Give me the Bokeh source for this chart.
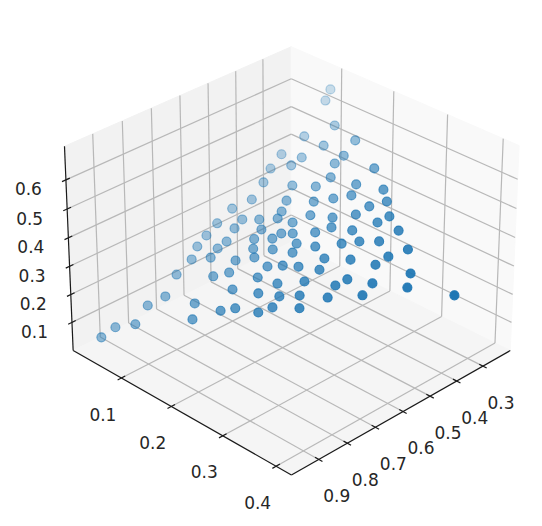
import numpy as np
from bokeh.plotting import figure
from bokeh.models import ColumnDataSource, Range1d
from bokeh.embed import file_html
from bokeh.resources import INLINE
from bokeh.core.properties import value

# Tick labels
x_ticks = [0.1, 0.2, 0.3, 0.4]
y_ticks = [0.3, 0.4, 0.5, 0.6, 0.7, 0.8, 0.9]
z_ticks = [0.1, 0.2, 0.3, 0.4, 0.5, 0.6]

# Series values
x_vals = [.113,.118,.158,.127,.164,.203,.114,.146,.203,.140,.199,.259,.208,.163,.197,.251,.294,.256,.234,.171,.210,.311,.114,.119,.121,.103,.176,
          .178,.098,.129,.153,.203,.096,.128,.167,.199,.215,.192,.167,.131,.095,.126,.176,.204,.231,.235,.101,.126,.164,.187,.215,.235,.168,
          .292,.220,.253,.282,.330,.320,.357,.262,.294,.245,.315,.293,.342,.260,.389,.370,.285,.322,.361,.258,.290,.417,
          .058,.067,.092,.089,.104,.096,.167,.153,.197,.215,.251,.265,.263,.303,.290,.231,.247,.191,.150,.213,.427,.497,.282,.328,.338,.376,.375,.330]
y_vals = [.261,.289,.331,.384,.383,.342,.443,.429,.384,.456,.409,.381,.441,.495,.474,.431,.416,.458,.481,.531,.506,.437,.483,.518,.564,.602,.558,
          .576,.647,.613,.596,.569,.682,.639,.614,.602,.591,.621,.640,.673,.713,.696,.660,.642,.607,.629,.744,.721,.701,.676,.681,.664,.731,
          .463,.537,.520,.492,.465,.488,.485,.541,.528,.567,.543,.564,.525,.595,.515,.547,.610,.588,.575,.651,.637,.561,
          .989,.955,.928,.879,.843,.789,.859,.826,.814,.795,.780,.756,.728,.732,.707,.743,.705,.761,.755,.712,.592,.567,.675,.653,.630,.615,.648,.684]
z_vals = [.680,.657,.621,.581,.579,.611,.534,.543,.577,.523,.558,.579,.532,.490,.506,.540,.552,.519,.500,.461,.480,.536,.502,.474,.437,.407,.440,
          .426,.372,.397,.410,.431,.344,.377,.396,.405,.414,.390,.375,.350,.319,.332,.359,.373,.401,.384,.294,.312,.327,.346,.343,.356,.303,
          .515,.456,.469,.492,.515,.496,.500,.453,.465,.433,.453,.436,.469,.411,.479,.453,.400,.419,.431,.367,.379,.446,
          .100,.127,.148,.187,.215,.258,.202,.228,.238,.254,.266,.285,.307,.306,.325,.295,.325,.280,.285,.318,.423,.450,.350,.368,.387,.401,.376,.344]

# Box limits
XL, XH, YL, YH, ZL, ZH = 0.0, 0.428, 0.194, 0.994, -0.002, 0.714

# Camera
CAM = np.array([[427.765, -274.095, -14.3954, 339.601],
                [197.476, 107.075, -271.006, 216.629],
                [-0.15007, -0.0760749, -0.0497895, 1.0]])

def project(x, y, z):
    h = CAM @ np.vstack([x, y, z, np.ones_like(np.asarray(x, dtype=float))])
    return h[0] / h[2], h[1] / h[2], h[2]

def pr(x, y, z):
    u, v, _ = project(np.array([x], float), np.array([y], float), np.array([z], float))
    return float(u[0]), float(v[0])

p = figure(width=534, height=520, x_range=Range1d(0, 534), y_range=Range1d(520, 0),
           toolbar_location=None, output_backend="svg", min_border=0)
p.axis.visible = False
p.grid.visible = False
p.outline_line_color = None

def pane(corners, color):
    pts = [pr(*c) for c in corners]
    p.patch([q[0] for q in pts], [q[1] for q in pts], fill_color=color, line_color=color, line_width=1)

pane([(XL, YH, ZL), (XL, YH, ZH), (XL, YL, ZH), (XL, YL, ZL)], "#f2f2f2")
pane([(XL, YL, ZL), (XL, YL, ZH), (XH, YL, ZH), (XH, YL, ZL)], "#f9f9f9")
pane([(XL, YH, ZL), (XH, YH, ZL), (XH, YL, ZL), (XL, YL, ZL)], "#f5f5f5")

grid = []
for x in x_ticks:
    grid += [((x, YL, ZL), (x, YL, ZH)), ((x, YL, ZL), (x, YH, ZL))]
for y in y_ticks:
    grid += [((XL, y, ZL), (XL, y, ZH)), ((XL, y, ZL), (XH, y, ZL))]
for z in z_ticks:
    grid += [((XL, YH, z), (XL, YL, z)), ((XL, YL, z), (XH, YL, z))]
gx = [[pr(*a)[0], pr(*b)[0]] for a, b in grid]
gy = [[pr(*a)[1], pr(*b)[1]] for a, b in grid]
p.multi_line(gx, gy, line_color="#b8b8b8", line_width=1.2)

axes = [((XL, YH, ZL), (XH, YH, ZL)), ((XH, YL, ZL), (XH, YH, ZL)), ((XL, YH, ZL), (XL, YH, ZH))]
DY, DX = 0.013, 0.0068
for x in x_ticks:
    axes.append(((x, YH - DY, ZL), (x, YH + DY, ZL)))
for y in y_ticks:
    axes.append(((XH - DX, y, ZL), (XH + DX, y, ZL)))
for z in z_ticks:
    axes.append(((XL, YH - DY, z), (XL, YH + DY, z)))
ax = [[pr(*a)[0], pr(*b)[0]] for a, b in axes]
ay = [[pr(*a)[1], pr(*b)[1]] for a, b in axes]
p.multi_line(ax, ay, line_color="#1a1a1a", line_width=1.2)

# Points, far to near, shaded by depth
u, v, w = project(np.array(x_vals), np.array(y_vals), np.array(z_vals))
nd = (w - w.min()) / (w.max() - w.min())
shade = 1 - 0.7 * nd ** 1.6
order = np.argsort(-w)
src = ColumnDataSource(dict(u=u[order], v=v[order], a=shade[order], f=shade[order] ** 1.25))
p.scatter("u", "v", source=src, size=9, fill_color="#1f77b4", line_color="#1f77b4",
          fill_alpha="f", line_alpha="a", line_width=1.1)

tx, ty, tt = [], [], []
for x in x_ticks:
    a, b = pr(x, YH, ZL)
    tx.append(a - 18.5); ty.append(b + 36); tt.append(f"{x:.1f}")
for y in y_ticks:
    a, b = pr(XH, y, ZL)
    tx.append(a + 18); ty.append(b + 36); tt.append(f"{y:.1f}")
for z in z_ticks:
    a, b = pr(XL, YH, z)
    tx.append(a - 37.5); ty.append(b + 9); tt.append(f"{z:.1f}")
p.text(tx, ty, text=tt, text_font=value("DejaVu Sans"), text_font_size="17px",
       text_align="center", text_baseline="middle", text_color="#262626")

open("out.html", "w").write(file_html(p, INLINE))
